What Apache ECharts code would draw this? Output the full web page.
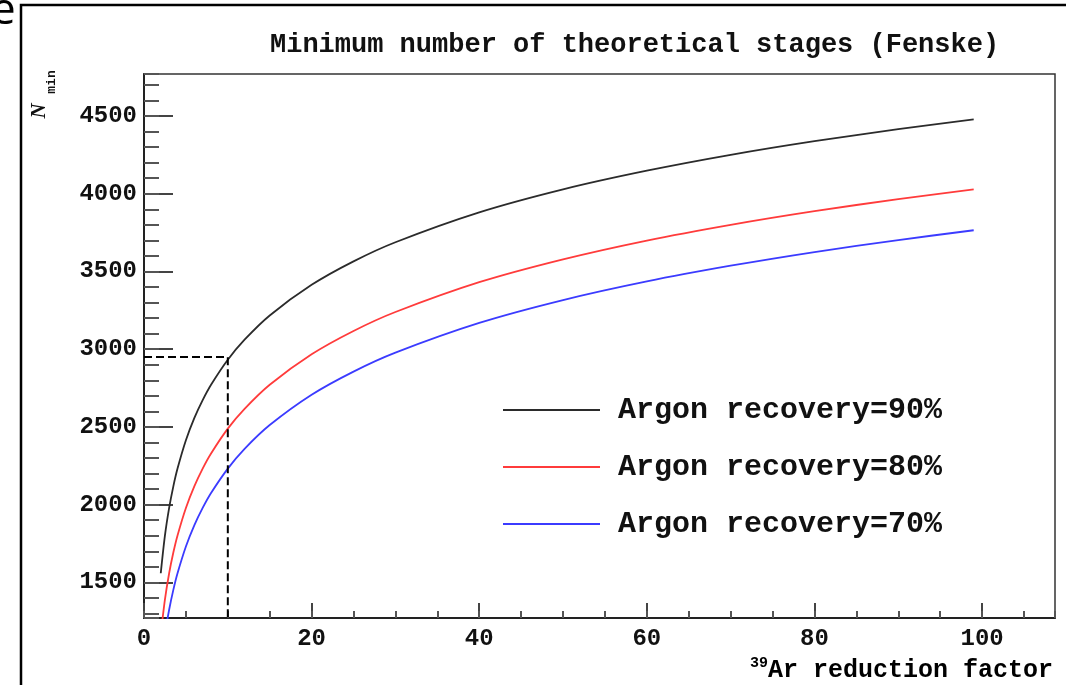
<!DOCTYPE html>
<html>
<head>
<meta charset="utf-8">
<script src="https://cdn.jsdelivr.net/npm/echarts@6/dist/echarts.min.js"></script>
<style>
  html, body { margin: 0; padding: 0; background: #fff; }
  #chart { width: 1066px; height: 685px; }
</style>
</head>
<body>
<div id="chart"></div>
<script>
// values
const reductionFactor = [2, 2.5, 3, 3.5, 4, 5, 6, 7, 8, 10, 12, 15, 20, 25, 30, 40, 50, 60, 70, 80, 90, 99];
const recovery90 = [1559, 1802, 1979, 2118, 2232, 2414, 2556, 2672, 2771, 2932, 3061, 3217, 3414, 3565, 3688, 3880, 4028, 4148, 4250, 4338, 4415, 4478];
const recovery80 = [1165, 1391, 1559, 1692, 1802, 1979, 2118, 2232, 2329, 2489, 2616, 2771, 2967, 3117, 3239, 3431, 3578, 3699, 3800, 3888, 3965, 4028];
const recovery70 = [953, 1165, 1324, 1452, 1559, 1731, 1867, 1979, 2075, 2232, 2359, 2512, 2707, 2856, 2978, 3169, 3316, 3436, 3537, 3625, 3702, 3765];
const seriesNames = ['Argon recovery=90%', 'Argon recovery=80%', 'Argon recovery=70%'];
const seriesColors = ['#2b2b2b', '#ff3b3b', '#3b3bff'];
// dashed guide: N_min needed for a factor of 10
const guideX = [0, 10, 10];
const guideY = [2950, 2950, 1271];

const yMin = 1271, yMax = 4770;
const xMin = 0, xMax = 108.7;

const mono = 'Liberation Mono';

let chart = echarts.init(document.getElementById('chart'));

function pairs(xs, ys) {
  return xs.map((x, i) => [x, ys[i]]);
}

const curves = [recovery90, recovery80, recovery70].map((ys, i) => ({
  name: seriesNames[i],
  type: 'line',
  data: pairs(reductionFactor, ys),
  symbol: 'none',
  smooth: 0.3,
  clip: true,
  lineStyle: { color: seriesColors[i], width: 1.8 },
  itemStyle: { color: seriesColors[i] }
}));

chart.setOption({
  animation: false,
  backgroundColor: '#fff',
  title: {
    text: 'Minimum number of theoretical stages (Fenske)',
    left: 265,
    top: 27,
    textStyle: { fontFamily: mono, fontWeight: 'bold', fontSize: 27, color: '#111' }
  },
  grid: {
    left: 144, top: 74, right: 11, bottom: 67,
    show: true, borderColor: '#333', borderWidth: 1.5
  },
  legend: {
    orient: 'vertical',
    left: 498,
    top: 390,
    icon: 'rect',
    itemWidth: 97,
    itemHeight: 2,
    itemGap: 27,
    selectedMode: false,
    data: seriesNames,
    textStyle: {
      fontFamily: mono, fontWeight: 'bold', fontSize: 30, color: '#111',
      lineHeight: 30, padding: [0, 0, 0, 13]
    }
  },
  xAxis: [
    {
      type: 'value', min: xMin, max: xMax, interval: 20,
      axisLine: { lineStyle: { color: '#222', width: 2 } },
      axisTick: { inside: true, length: 15, lineStyle: { color: '#444', width: 2 } },
      axisLabel: {
        showMaxLabel: false, margin: 9,
        fontFamily: mono, fontWeight: 'bold', fontSize: 24, color: '#111'
      },
      splitLine: { show: false }
    },
    {
      // minor ticks every 5
      type: 'value', min: xMin, max: xMax, interval: 5, position: 'bottom',
      axisLine: { show: false },
      axisTick: { inside: true, length: 7, lineStyle: { color: '#555', width: 2 } },
      axisLabel: { show: false },
      splitLine: { show: false }
    }
  ],
  yAxis: [
    {
      type: 'value', min: yMin, max: yMax, splitNumber: 7,
      axisLine: { show: true, lineStyle: { color: '#222', width: 2 } },
      axisTick: { inside: true, length: 29, lineStyle: { color: '#444', width: 2 } },
      axisLabel: {
        showMinLabel: false, showMaxLabel: false, margin: 7,
        formatter: v => String(v),
        fontFamily: mono, fontWeight: 'bold', fontSize: 24, color: '#111'
      },
      splitLine: { show: false }
    },
    {
      // minor ticks every 100
      type: 'value', min: yMin, max: yMax, splitNumber: 35, position: 'left',
      axisLine: { show: false },
      axisTick: { inside: true, length: 15, lineStyle: { color: '#555', width: 2 } },
      axisLabel: { show: false },
      splitLine: { show: false }
    }
  ],
  graphic: [
    {
      type: 'rect',
      shape: { x: 21, y: 5, width: 1200, height: 800 },
      style: { fill: 'none', stroke: '#000', lineWidth: 2.5 },
      silent: true
    },
    {
      type: 'text', x: -9, y: 11,
      style: { text: 'e', fontFamily: 'Open Sans', fontSize: 44, fill: '#000', textVerticalAlign: 'middle' }
    },
    {
      type: 'text', x: 40, y: 111, rotation: Math.PI / 2,
      style: {
        text: 'N', fontFamily: 'Liberation Serif', fontWeight: 'bold', fontStyle: 'italic',
        fontSize: 21, fill: '#111', textAlign: 'center', textVerticalAlign: 'middle'
      }
    },
    {
      type: 'text', x: 52, y: 82, rotation: Math.PI / 2,
      style: {
        text: 'min', fontFamily: mono, fontWeight: 'bold',
        fontSize: 13, fill: '#111', textAlign: 'center', textVerticalAlign: 'middle'
      }
    },
    {
      type: 'text', right: 13, top: 656,
      style: {
        text: '{s|39}{t|Ar reduction factor}',
        rich: {
          s: { fontFamily: mono, fontWeight: 'bold', fontSize: 15, color: '#111', padding: [0, 0, 14, 0] },
          t: { fontFamily: mono, fontWeight: 'bold', fontSize: 25, color: '#111' }
        }
      }
    }
  ],
  series: curves.concat([
    {
      name: 'guide',
      type: 'line',
      data: pairs(guideX, guideY),
      symbol: 'none',
      lineStyle: { color: '#000', width: 2, type: [8, 4] },
      silent: true
    }
  ])
});
</script>
</body>
</html>
